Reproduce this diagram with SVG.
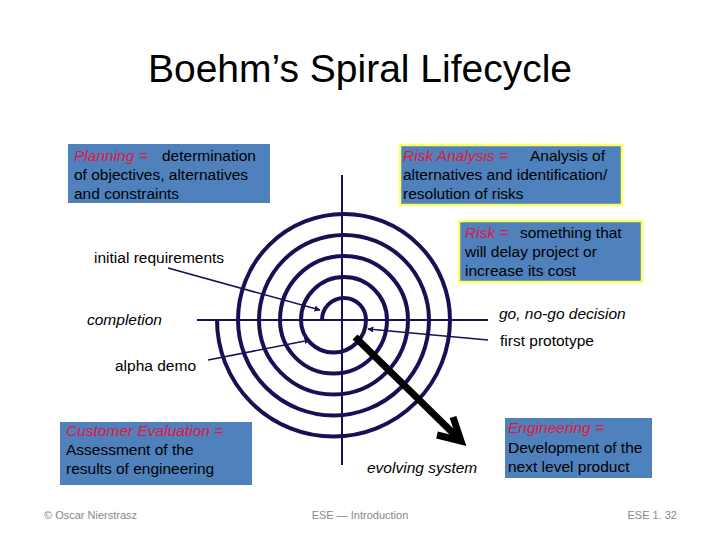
<svg xmlns="http://www.w3.org/2000/svg" width="720" height="540" viewBox="0 0 720 540">
<style>
.t{font-family:"Liberation Sans",Arial,sans-serif;font-size:15.5px;fill:#000}
.r{fill:#e3173e;font-style:italic}
.i{font-style:italic}
.box{fill:#4f81bd}
.ybox{fill:#4f81bd;stroke:#ffff66;stroke-width:2.5}
.ax{stroke:#1a0f55;stroke-width:2;fill:none}
.sp{stroke:#1a0f55;stroke-width:4;fill:none}
.thin{stroke:#1a0f55;stroke-width:1.6;fill:none;marker-end:url(#ah)}
.ft{font-family:"Liberation Sans",Arial,sans-serif;font-size:11px;fill:#888}
</style>
<defs>
<marker id="ah" viewBox="0 0 10 10" refX="9" refY="5" markerWidth="6" markerHeight="6" markerUnits="userSpaceOnUse" orient="auto">
<path d="M0,0 L10,5 L0,10 z" fill="#1a0f55"/>
</marker>
</defs>
<rect width="720" height="540" fill="#fff"/>
<text x="360" y="82" text-anchor="middle" font-family="Liberation Sans, Arial, sans-serif" font-size="38" textLength="424" lengthAdjust="spacingAndGlyphs">Boehm’s Spiral Lifecycle</text>

<g id="spiral">
<line class="ax" x1="342" y1="175" x2="342" y2="465"/>
<line class="ax" x1="197" y1="320" x2="488" y2="320"/>
<path class="sp" d="M322,320 A22,22 0 0 1 366,320 A32.5,32.5 0 0 1 301,320 A43,43 0 0 1 387,320 A53.5,53.5 0 0 1 280,320 A64,64 0 0 1 408,320 A74.5,74.5 0 0 1 259,320 A85,85 0 0 1 429,320 A95.5,95.5 0 0 1 238,320 A106,106 0 0 1 450,320 A116.5,116.5 0 0 1 217,320"/>
</g>

<g id="connectors">
<line class="thin" x1="168" y1="268" x2="320" y2="310"/>
<line class="thin" x1="208" y1="360" x2="310" y2="340"/>
<line class="thin" x1="488" y1="340" x2="368" y2="329"/>
<line x1="355" y1="337" x2="458" y2="438" stroke="#000" stroke-width="7"/>
<polyline points="437,435 461,441 453,417" fill="none" stroke="#000" stroke-width="7" stroke-linejoin="miter"/>
</g>

<g id="planning">
<rect class="box" x="68" y="144" width="202" height="59"/>
<text class="t" x="74" y="161"><tspan class="r">Planning =</tspan><tspan x="162">determination</tspan></text>
<text class="t" x="74" y="180">of objectives, alternatives</text>
<text class="t" x="74" y="199">and constraints</text>
</g>

<g id="risk-analysis">
<rect class="ybox" x="400" y="145" width="222" height="60"/>
<text class="t" x="403" y="161"><tspan class="r">Risk Analysis =</tspan><tspan x="530">Analysis of</tspan></text>
<text class="t" x="403" y="180">alternatives and identification/</text>
<text class="t" x="403" y="199">resolution of risks</text>
</g>

<g id="risk">
<rect class="ybox" x="459" y="221" width="183" height="61"/>
<text class="t" x="465" y="238"><tspan class="r">Risk =</tspan><tspan x="520">something that</tspan></text>
<text class="t" x="465" y="257">will delay project or</text>
<text class="t" x="465" y="276">increase its cost</text>
</g>

<g id="customer">
<rect class="box" x="60" y="422" width="192" height="63"/>
<text class="t" x="66" y="436"><tspan class="r">Customer Evaluation =</tspan></text>
<text class="t" x="66" y="455">Assessment of the</text>
<text class="t" x="66" y="474">results of engineering</text>
</g>

<g id="engineering">
<rect class="box" x="505" y="418" width="147" height="60"/>
<text class="t" x="508" y="433"><tspan class="r">Engineering =</tspan></text>
<text class="t" x="508" y="453">Development of the</text>
<text class="t" x="508" y="472">next level product</text>
</g>

<g id="labels">
<text class="t" x="94" y="263">initial requirements</text>
<text class="t i" x="87" y="325">completion</text>
<text class="t" x="115" y="371">alpha demo</text>
<text class="t i" x="499" y="319">go, no-go decision</text>
<text class="t" x="500" y="346">first prototype</text>
<text class="t i" x="367" y="473">evolving system</text>
</g>

<g id="footer">
<text class="ft" x="44" y="519">© Oscar Nierstrasz</text>
<text class="ft" x="360" y="519" text-anchor="middle">ESE — Introduction</text>
<text class="ft" x="677" y="519" text-anchor="end">ESE 1. 32</text>
</g>
</svg>
